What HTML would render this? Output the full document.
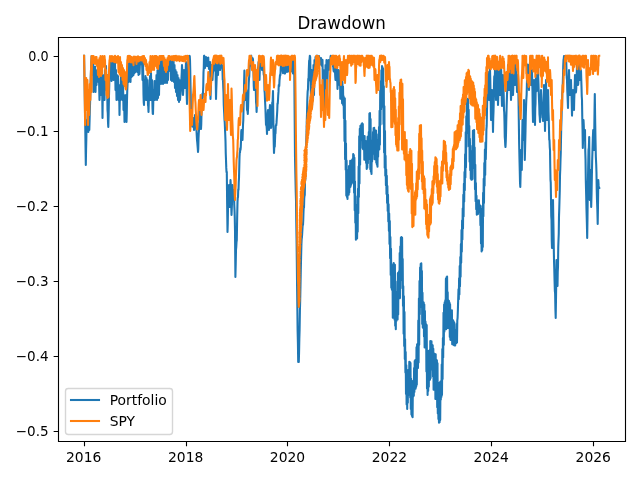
<!DOCTYPE html>
<html><head><meta charset="utf-8"><title>Drawdown</title>
<style>html,body{margin:0;padding:0;background:#fff;overflow:hidden;width:640px;height:480px}svg{display:block}</style></head><body>
<svg width="640" height="480" viewBox="0 0 640 480">
<rect width="640" height="480" fill="#fff"/>
<defs><clipPath id="ax"><rect x="58.35" y="37.33" width="566.65" height="403.94"/></clipPath></defs>
<g clip-path="url(#ax)" fill="none" stroke-width="2.08" stroke-linejoin="round" stroke-linecap="square">
<polyline stroke="#1f77b4" points="84.1,55.69 84.45,77.69 84.8,100 85.05,115.94 85.3,130 85.55,148.5 85.8,165 86.05,150.36 86.3,140 86.55,127.07 86.8,120 87.05,124.25 87.3,130 87.55,119.64 87.8,112 88.05,123.86 88.3,132 88.55,124.64 88.8,115 89.05,123.11 89.3,130 89.55,121.35 89.8,112 90.1,101.97 90.4,90 90.7,77.87 91,70 91.3,62.64 91.6,56 92,57 92.25,63.97 92.5,75 92.75,71.69 93,63.5 93.25,75.1 93.5,92 93.75,82.91 94,70 94.25,77.45 94.5,90 94.75,79.37 95,66.5 95.25,78.27 95.5,92 95.75,80.43 96,70 96.25,79.55 96.5,85 96.75,75.61 97,72 97.25,73.36 97.5,80 97.75,77.99 98,71 98.25,76.55 98.5,82 98.75,76.55 99,76 99.25,90.92 99.5,100 99.75,92.68 100,80 100.25,85.18 100.5,95 100.75,77.04 101,60 101.25,72.81 101.5,90 101.75,78.88 102,70 102.25,94.73 102.5,118 102.75,96.98 103,80 103.25,91.18 103.5,100 103.75,84.81 104,75 104.25,85.53 104.5,100 104.75,86.89 105,70 105.25,74.4 105.5,80 105.75,72.51 106,66 106.25,78.58 106.5,90 106.75,82.36 107,75 107.25,91.81 107.5,110 107.77,112.85 108.03,122.69 108.3,127 108.65,113.8 109,95 109.25,85.36 109.5,70 109.75,66.98 110,62 110.25,69.14 110.5,78 110.75,68.18 111,60 111.25,71.64 111.5,81 111.75,72.54 112,62 112.25,68.18 112.5,79 112.75,67.91 113,60 113.25,69.18 113.5,80 113.75,72.07 114,64 114.25,69.86 114.5,72 114.75,67.75 115,63.5 115.25,73.92 115.5,90 115.75,81.94 116,70 116.25,84.58 116.5,100 116.75,87.61 117,75 117.25,83.33 117.5,95 117.75,85.06 118,76 118.25,87.33 118.5,100 118.75,94.13 119,85 119.25,97.62 119.5,115 119.75,102.8 120,90 120.25,93.07 120.5,100 120.75,89.68 121,77 121.25,84.72 121.5,98 121.75,87.66 122,80 122.25,89.07 122.5,100 122.75,93.32 123,85 123.25,94.81 123.5,110 123.75,102.26 124,95 124.25,106.75 124.5,122 124.75,109.69 125,100 125.25,107.36 125.5,115 125.75,107.75 126,95 126.25,108.39 126.5,122 126.75,113.74 127,100 127.25,90.51 127.5,85 127.75,76.05 128,62 128.25,71.19 128.5,82 128.75,71.14 129,64 129.25,73.99 129.5,81 129.75,73.97 130,62 130.25,69.04 130.5,82 130.75,71.11 131,63 131.25,71.62 131.5,77 131.75,68.55 132,62 132.25,67.45 132.5,76 132.75,66.55 133,63 133.25,66.24 133.5,75 133.75,69.21 134,62 134.25,70.4 134.5,73 134.75,69.99 135,61 135.25,66.52 135.5,72 135.75,64.14 136,62 136.25,65.43 136.5,71 136.75,67.72 137,61 137.25,68.49 137.5,72 137.75,67.84 138,62 138.25,66.88 138.5,75 138.75,68.16 139,61 139.25,67.36 139.5,74 139.75,67.76 140,60 140.25,60.08 140.5,63 140.75,64.18 141,60 141.25,63.25 141.5,62 141.75,58.97 142,60 142.25,68.75 142.5,80 142.75,73.24 143,62 143.25,77.17 143.5,95 143.75,102.66 144,105 144.25,92.59 144.5,80 144.75,90.18 145,98 145.25,88.23 145.5,76 145.75,86.28 146,100 146.25,87.71 146.5,78 146.75,87.53 147,100 147.25,91.1 147.5,80 147.75,93.66 148,105 148.25,106.29 148.5,112 148.75,103.32 149,90 149.25,94.52 149.5,100 149.75,86.45 150,76 150.25,87.61 150.5,100 150.75,89.38 151,73 151.25,86.86 151.5,100 151.75,90.75 152,80 152.25,96.52 152.5,108 152.75,113.77 153,114 153.25,103.56 153.5,90 153.75,94.51 154,100 154.25,91.03 154.5,81 154.75,92.91 155,100 155.25,92.74 155.5,82 155.75,88.98 156,95 156.25,84.08 156.5,75 156.75,86.71 157,100 157.25,86.42 157.5,70 157.75,84.38 158,98 158.25,80.6 158.5,69 158.75,83.26 159,95 159.25,80.92 159.5,62 159.75,73.79 160,82 160.25,73.38 160.5,60 160.75,74.46 161,84 161.25,72.71 161.5,61 161.75,73.23 162,82 162.25,70.28 162.5,60 162.75,69.59 163,84 163.25,74.12 163.5,66 163.75,71.87 164,80 164.25,77.6 164.5,70 164.75,77.63 165,83 165.25,77.75 165.5,72 165.75,77.73 166,82 166.25,74.75 166.5,72 166.75,77.71 167,83 167.25,78.7 167.5,72 167.75,75.36 168,80 168.25,68.47 168.5,60 168.75,64.44 169,70 169.25,62.94 169.5,58 169.75,65.61 170,71 170.25,63.35 170.5,60 170.75,67.54 171,80 171.25,67.87 171.5,58 171.75,70.67 172,81 172.25,73.06 172.5,62 172.75,69.46 173,75 173.25,69.11 173.5,58 173.75,69.19 174,82 174.25,70.68 174.5,65 174.75,76.43 175,88 175.25,78.66 175.5,70 175.75,79.08 176,92 176.25,83 176.5,72 176.75,83.05 177,96 177.25,83.93 177.5,75 177.75,86.46 178,100 178.25,91.66 178.5,78 178.75,87.05 179,102 179.25,90.16 179.5,80 179.75,88.68 180,100 180.25,95.69 180.5,94.59 180.75,90.78 181,90 181.25,86.37 181.5,77.51 181.75,72.51 182,65 182.25,70.32 182.5,79.77 182.75,88.2 183,95 183.25,91.03 183.5,80.82 183.75,75.98 184,70 184.25,76.93 184.5,81.29 184.75,81.61 185,88 185.25,81.77 185.5,76.86 185.75,67.75 186,62 186.25,73.76 186.5,84.19 186.75,96.97 187,104 187.25,94.65 187.5,85.86 187.75,73.62 188,65 188.25,64.53 188.5,59.13 188.75,58.25 189,56 189.25,55.91 189.5,56.48 189.75,56.11 190,60 190.25,70.31 190.5,85.35 190.75,95.51 191,110 191.25,110.12 191.5,119.93 191.75,119.54 192,125 192.25,126.5 192.5,122.29 192.75,118.86 193,118 193.25,123.98 193.5,127.18 193.75,125.57 194,130 194.25,123.26 194.5,123.63 194.75,121.49 195,115 195.25,118.37 195.5,122.27 195.75,121.8 196,125 196.25,129.69 196.5,130.61 196.75,135.51 197,140 197.25,142.04 197.5,145.08 197.75,148.2 198,152 198.25,148.96 198.5,138.36 198.75,133.14 199,130 199.25,123.04 199.5,123.77 199.75,115.18 200,110 200.25,111.17 200.5,122.18 200.75,127.24 201,129 201.25,124.32 201.5,113.37 201.75,109.13 202,100 202.25,96.69 202.5,93.6 202.75,97.67 203,93 203.25,86.41 203.5,72.19 203.75,68.29 204,56 204.25,55.69 204.5,60.47 204.75,61.1 205,68 205.25,62.62 205.5,59.81 205.75,61.48 206,57 206.25,57.62 206.5,59.02 206.75,61.22 207,66 207.25,62.5 207.5,64.9 207.75,60.85 208,58 208.25,57.57 208.5,64.98 208.75,66.54 209,69 209.25,66.84 209.5,65.72 209.75,64.96 210,62 210.25,82.91 210.5,99 210.75,90.54 211,83.08 211.25,73.24 211.5,65 211.75,69.82 212,71.61 212.25,75.57 212.5,80 212.75,75.13 213,71.72 213.25,63.23 213.5,60 213.75,65.9 214,64.93 214.25,70.34 214.5,70 214.75,69.52 215,69.65 215.25,65.46 215.5,62 215.75,79.91 216,99 216.25,89.75 216.5,82.86 216.75,75.53 217,65 217.25,70.21 217.5,67.03 217.75,69 218,75 218.25,68.12 218.5,64.17 218.75,60.2 219,60 219.25,58.57 219.5,63 219.75,64.41 220,70 220.25,68.24 220.5,64.43 220.75,64.01 221,57 221.25,62.99 221.5,63.51 221.75,67.43 222,66 222.25,65.62 222.5,70.76 222.75,80.03 223,80 223.25,87.3 223.5,92.55 223.75,104.65 224,110 224.25,114.11 224.5,119.86 224.75,122.69 225,129 225.25,134.55 225.5,140.97 225.75,153.17 226,160 226.27,167.91 226.53,172.21 226.8,172 227.15,204.31 227.5,232 227.77,223.47 228.03,206.12 228.3,195 228.65,188.21 229,185 229.27,196.11 229.53,200.56 229.8,207 230.15,195.02 230.5,180 230.75,184.33 231,195.03 231.25,206.09 231.5,215 231.75,209.62 232,203 232.25,194.87 232.5,185 232.85,191.01 233.2,200 233.47,195.56 233.73,196.73 234,190 234.25,204.61 234.5,209.86 234.75,217.11 235,230 235.4,277 235.7,264.69 236,250 236.27,247.01 236.53,242 236.8,240 237.15,218.38 237.5,202 237.75,197.88 238,197.1 238.25,189.33 238.5,190 238.75,182.15 239,177.98 239.25,167.68 239.5,157 239.75,152.78 240,152.68 240.25,148.25 240.5,150 240.75,147.36 241,141.31 241.25,131.74 241.5,130 241.75,132.98 242,135.95 242.25,138.26 242.5,140 242.77,132.13 243.03,124.79 243.3,120 243.58,106.22 243.85,100.2 244.12,81.28 244.4,70.6 244.7,80.42 245,89.81 245.3,100 245.55,94.3 245.8,94.02 246.05,89.62 246.3,90 246.65,98.27 247,110 247.27,110.04 247.53,111.21 247.8,114 248.15,106.24 248.5,90 248.75,83.04 249,78.38 249.25,76.52 249.5,70 249.75,66.68 250,65.48 250.25,64.41 250.5,56.58 250.75,59.98 251,56 251.25,55.69 251.5,58.12 251.75,65.7 252,65 252.25,66.69 252.5,64.15 252.75,58.31 253,60 253.25,66.92 253.5,72.94 253.75,85.72 254,90 254.25,82.48 254.5,77.14 254.75,76.3 255,70 255.27,78.29 255.53,84.84 255.8,90.8 256.07,102.3 256.33,104.61 256.6,112 256.9,103.74 257.2,86.33 257.5,75 257.75,71.43 258,67.2 258.25,67.24 258.5,62 258.75,68.83 259,68.59 259.25,75.74 259.5,80 259.75,72.09 260,60 260.25,59.51 260.5,60.49 260.75,59.57 261,58 261.25,62.96 261.5,62.68 261.75,65.23 262,70 262.25,63.17 262.5,68.55 262.75,65.13 263,60 263.25,62.75 263.5,71.73 263.75,74.89 264,75 264.25,78.1 264.5,90.54 264.75,93.04 265,100 265.25,104.58 265.5,110.34 265.75,117.98 266,125 266.25,123.38 266.5,125.48 266.75,128.33 267,134 267.25,126.28 267.5,118.96 267.75,112.64 268,110 268.25,117.94 268.5,118.93 268.75,124.91 269,130 269.25,124.64 269.5,121.32 269.75,108.13 270,105 270.25,108.36 270.5,119.66 270.75,125.84 271,128 271.25,127.28 271.5,119.25 271.75,113.34 272,110 272.25,102.54 272.5,104.07 272.75,98.06 273,91 273.25,110.95 273.5,130 273.75,144.02 274,153 274.25,147.69 274.5,146.79 274.75,146.75 275,140 275.25,132.89 275.5,133.51 275.75,126.05 276,125 276.25,125.39 276.5,122.9 276.75,118.73 277,115 277.25,110.7 277.5,103.43 277.75,103.7 278,100 278.25,95.06 278.5,91.66 278.75,85.18 279,85 279.25,86.04 279.5,80.19 279.75,78.02 280,75 280.25,75.37 280.5,73.32 280.75,67.92 281,65 281.25,64.12 281.5,65.39 281.75,60.19 282,60 282,57.5 282.25,64.73 282.5,61.37 282.75,71.68 283,73.13 283.25,69.45 283.5,66.33 283.75,65.45 284,57.5 284.25,59.21 284.5,64.78 284.75,72.02 285,73.58 285.25,71.58 285.5,65.74 285.75,63.78 286,57.5 286.25,62.54 286.5,67.7 286.75,69.51 287,71.89 287.25,67.18 287.5,62.97 287.75,57.72 288,57.5 288.25,57.85 288.5,60.6 288.75,71.51 289,71.07 289.25,64.79 289.5,65.11 289.75,57.96 290,57.5 290.25,64.75 290.5,64.76 290.75,65.36 291,71.5 291.25,70.69 291.5,67.49 291.75,64.99 292,57.5 292.25,59.16 292.5,64.66 292.75,70.86 293,73.48 293.25,63.86 293.5,58 293.85,59.61 294.2,60 294.6,110 295,157 295.25,169.57 295.5,180.79 295.75,192.21 296,200 296.27,222.32 296.53,238 296.8,260 297.07,285.74 297.33,306.04 297.6,330 297.9,342.83 298.2,362 298.5,360.29 298.8,362 299.07,352.53 299.33,339.27 299.6,330 299.9,310.95 300.2,300 300.5,284.9 300.8,270 301.1,256.65 301.4,245 301.67,239 301.95,237.16 302.23,232.64 302.5,228 302.75,224.3 303,224.87 303.25,220.05 303.5,212 303.75,205.99 304,207.72 304.25,198.15 304.5,196 304.77,195.04 305.03,180.91 305.3,180 305.55,168.18 305.8,160 306.05,154.32 306.3,140 306.55,131.61 306.8,120 307.05,112.06 307.3,100 307.65,91.54 308,89 308.27,78.88 308.53,80.93 308.8,70 309.15,60.66 309.5,60 309.85,55.69 310.2,57 310.5,75 310.75,86.81 311,100 311.25,88.19 311.5,70 311.75,90.79 312,108 312.25,98.98 312.5,80 312.75,92.79 313,100 313.25,81.87 313.5,65 313.75,84.11 314,95 314.25,75.67 314.5,60 314.75,65.51 315,80 315.25,73.09 315.5,57 315.75,64.81 316,65 316.25,64.35 316.5,60.3 316.75,55.69 317,56 317.25,55.69 317.5,55.69 317.75,55.69 318,60 318.25,58.79 318.5,61.75 318.75,61.32 319,56 319.25,57.89 319.5,61.24 319.75,60.93 320,63 320.25,64.51 320.5,62.56 320.75,64.1 321,58 321.25,63.46 321.5,63.78 321.75,64.9 322,66 322.25,59.69 322.5,60 322.75,79.72 323,100 323.25,84.48 323.5,70 323.75,85.54 324,108 324.25,91.02 324.5,80 324.75,91.61 325,105 325.25,81.76 325.5,65 325.75,78.74 326,90 326.25,73.28 326.5,60 326.75,83.38 327,97 327.27,89.84 327.53,79.17 327.8,70 328.15,64.34 328.5,60 328.75,60.92 329,61 329.25,69.75 329.5,68 329.75,69.39 330,64 330.25,61.25 330.5,57 330.75,55.69 331,60.92 331.25,58.92 331.5,64 331.75,60.74 332,61.87 332.25,56.25 332.5,58 332.75,58.33 333,66.3 333.25,66.85 333.5,70 333.75,71.4 334,61.59 334.25,58.39 334.5,60 334.75,69.38 335,71.09 335.25,76.93 335.5,80 335.75,76.81 336,68.99 336.25,73.53 336.5,65 336.75,70.96 337,81.09 337.25,79.46 337.5,89 337.75,82 338,79.99 338.25,72.23 338.5,70 338.75,77.35 339,75.11 339.25,77.04 339.5,85 339.75,74.8 340,71.33 340.3,98.66 340.6,70.5 340.9,97.19 341.2,80.02 341.5,98.79 341.8,82.05 342.1,103.17 342.4,81.73 342.7,104.08 343,86.6 343.3,105.47 343.6,96.18 343.9,118.17 344.2,98.05 344.5,141.11 344.8,98.34 345.1,159.3 345.4,120.77 345.7,169.82 346,143.54 346.3,195.47 346.6,160.65 346.9,196.98 347.2,170.37 347.5,198.95 347.8,172.28 348.1,192.82 348.4,170.08 348.7,194.68 349,165.96 349.3,192.42 349.6,165.84 349.9,187.45 350.2,160.72 350.5,186.81 350.8,162.97 351.1,184.84 351.4,161.14 351.7,183.52 352,160.07 352.3,182.24 352.6,158.96 352.9,174.7 353.2,154.11 353.5,182.06 353.8,155.1 354.1,192.67 354.4,157.87 354.7,210.34 355,181.61 355.3,222.65 355.6,196.33 355.9,239.62 356.2,211.06 356.5,237.38 356.8,214.48 357.1,238.45 357.4,204.8 357.7,231.77 358,188.7 358.3,213.27 358.6,166.63 358.9,197 359.2,136.31 359.5,183.52 359.8,128.85 360.1,164.69 360.4,125.88 360.7,138.21 361,127.62 361.3,139.75 361.6,123.98 361.9,139.55 362.2,123.28 362.5,147.98 362.8,124.01 363.1,149.22 363.4,136.21 363.7,148.94 364,136.86 364.3,159.74 364.6,136.04 364.9,157.8 365.2,141.4 365.5,158.92 365.8,140.92 366.1,163.01 366.4,142 366.7,168.94 367,144.41 367.3,167.66 367.6,136.77 367.9,163.16 368.2,136.33 368.5,159.03 368.8,132.1 369.1,156.8 369.4,113.58 369.7,155.58 370,113.15 370.3,169.19 370.6,119.01 370.9,171.85 371.2,142.98 371.5,173.96 371.8,142.94 372.1,161.59 372.4,140.42 372.7,153.26 373,132.15 373.3,153.66 373.6,128.1 373.9,149.37 374.2,127.8 374.5,159.28 374.8,130.11 375.1,159.16 375.4,130.18 375.7,156.49 376,130.61 376.3,162.8 376.6,134.38 376.9,164.71 377.2,140.04 377.5,166.8 377.8,140.64 378.1,156.73 378.4,140.73 378.7,148.26 379,127.02 379.3,149.44 379.6,110.83 379.9,144.73 380.2,90.48 380.5,124.6 380.8,81.38 381.1,109.2 381.4,70.34 381.7,89.33 382,65.93 382.3,81.17 382.6,67.35 382.9,106.62 383.2,68.7 383.5,124.1 383.8,86.32 384.1,152.49 384.4,106.32 384.7,167.7 385,130.92 385.3,175.73 385.6,155.9 385.9,185.27 386.2,169.43 386.5,193.89 386.8,175.79 387.1,203.01 387.4,186.02 387.7,210.94 388,194.83 388.3,221.51 388.6,204.21 388.9,230.96 389.2,213.57 389.5,243.97 389.8,221.12 390.1,258.27 390.4,236.95 390.7,274.99 391,248.68 391.3,287.66 391.6,264.39 391.9,289.83 392.2,278.22 392.5,272.08 392.8,317.76 393.1,270.83 393.4,315.84 393.7,263.04 394,316.38 394.3,265.82 394.6,319.76 394.9,264.72 395.2,325.75 395.5,281.54 395.8,329.14 396.1,293.46 396.4,321.02 396.7,292.48 397,319.43 397.3,293.29 397.6,319.43 397.9,273.04 398.2,314.46 398.5,272.48 398.8,297.21 399.1,271.38 399.4,297.09 399.7,253.08 400,298.13 400.3,246.56 400.6,276.35 400.9,237.47 401.2,255.59 401.5,237.06 401.8,279.87 402.1,237.72 402.4,288.32 402.7,258.98 403,305.87 403.3,286.22 403.6,333.7 403.9,296.23 404.2,346.11 404.5,312.12 404.8,359.11 405.1,339.37 405.4,372.61 405.7,352.08 406,393.94 406.3,365.26 406.6,404.6 406.9,374.85 407.2,408.96 407.5,370.39 407.8,402.83 408.1,370.05 408.4,394.75 408.7,371.49 409,392.1 409.3,361.76 409.6,393.33 409.9,362.15 410.2,397.57 410.5,363.1 410.8,408.95 411.1,378.87 411.4,414.55 411.7,400.12 412,416.1 412.3,382.77 412.6,417.32 412.9,380.98 413.2,396.73 413.5,381.92 413.8,395.71 414.1,367.99 414.4,391.89 414.7,361.02 415,383.35 415.3,360.15 415.6,388.68 415.9,361.92 416.2,386.84 416.5,347.37 416.8,384.86 417.1,344.17 417.4,367.2 417.7,344.89 418,367.97 418.3,320.51 418.6,362.43 418.9,298.55 419.2,344.86 419.5,280.95 419.8,314.21 420.1,267.55 420.4,291.26 420.7,263.91 421,289.67 421.3,263.41 421.6,306.91 421.9,271.01 422.2,324.08 422.5,292.71 422.8,327.47 423.1,306.97 423.4,328.21 423.7,302.55 424,336.38 424.3,304.43 424.6,347.45 424.9,311.11 425.2,346.7 425.5,321.44 425.8,346.27 426.1,324.39 426.4,371.51 426.7,324.94 427,388.38 427.3,354.65 427.6,395.04 427.9,366.28 428.2,390.89 428.5,350.95 428.8,386.7 429.1,353.27 429.4,377.82 429.7,350.04 430,379.78 430.3,341 430.6,378.13 430.9,342.35 431.2,365.19 431.5,341.28 431.8,369.54 432.1,350.18 432.4,369.59 432.7,345.26 433,376.5 433.3,348.76 433.6,389.65 433.9,355.95 434.2,386.79 434.5,353.67 434.8,384.35 435.1,354.52 435.4,398.99 435.7,354.29 436,396.76 436.3,364.23 436.6,397.63 436.9,360.39 437.2,407.22 437.5,363.3 437.8,413.44 438.1,382.79 438.4,419.1 438.7,411.1 439,422.72 439.3,402.8 439.6,422.25 439.9,382.36 440.2,420.11 440.5,381.65 440.8,399.82 441.1,381.16 441.4,397.05 441.7,364.44 442,394.92 442.3,349.16 442.6,379.11 442.9,338.05 443.2,357.52 443.5,312.76 443.8,344.91 444.1,304.58 444.4,331.75 444.7,302.2 445,328.05 445.3,300.31 445.6,325.86 445.9,278.84 446.2,329.31 446.5,277.29 446.8,308.99 447.1,276.53 447.4,319.81 447.7,292.24 448,328.03 448.3,312.81 448.6,327.31 448.9,300.83 449.2,327.04 449.5,302.63 449.8,337 450.1,304.2 450.4,339.86 450.7,313.54 451,337.79 451.3,312.2 451.6,338.3 451.9,310.29 452.2,344.21 452.5,322.29 452.8,344.46 453.1,320.19 453.4,339.15 453.7,321.45 454,345.26 454.3,322.78 454.6,345.49 454.9,330.68 455.2,345.4 455.5,330.01 455.8,343.28 456.1,331.06 456.4,343.1 456.7,324.06 457,342.5 457.3,320.29 457.6,317.93 457.9,309.37 458.2,299.14 458.5,289.38 458.8,299.28 459.1,278.37 459.4,294.4 459.7,266.02 460,286.31 460.3,257.13 460.6,276.72 460.9,243.93 461.2,262.85 461.5,230.14 461.8,251.68 462.1,220.45 462.4,239.43 462.7,208.52 463,228.45 463.3,194.83 463.6,216.61 463.9,183.76 464.2,201.79 464.5,172.05 464.8,190.24 465.1,154.33 465.4,177.53 465.7,132.28 466,167.36 466.3,116.37 466.6,146.8 466.9,100.15 467.2,129.66 467.5,98.72 467.8,120.66 468.1,99.04 468.4,132.96 468.7,109.83 469,146.34 469.3,126.04 469.6,161.79 469.9,138.85 470.2,170.17 470.5,151.07 470.8,178.83 471.1,164.85 471.4,179.83 471.7,162.36 472,179.6 472.3,145.9 472.6,167.97 472.9,130.88 473.2,159.97 473.5,130.23 473.8,159.46 474.1,130.08 474.4,179.06 474.7,147.59 475,189.36 475.3,164.78 475.6,201.28 475.9,182.95 476.2,209.28 476.5,195.75 476.8,214.67 477.1,204.34 477.4,213.88 477.7,200.84 478,214 478.3,200.98 478.6,210.02 478.9,200.39 479.2,210.57 479.5,204.61 479.8,211.9 480.1,206.04 480.4,225.15 480.7,205.94 481,243.46 481.3,208.73 481.6,251.51 481.9,223.82 482.2,250.22 482.5,210.6 482.8,246.89 483.1,192.89 483.4,216.24 483.7,178.79 484,203.04 484.3,163 484.6,185.71 484.9,149.45 485.2,174.93 485.5,142.64 485.8,159.21 486.1,146.15 486.4,129.91 486.7,125.69 487,110 487.25,96.69 487.5,87.95 487.75,80.84 488,72 488.25,82.67 488.5,82.8 488.75,88.59 489,100 489.25,96.34 489.5,79.57 489.75,79.1 490,69 490.25,78.16 490.5,92.49 490.75,104.33 491,120 491.25,111.89 491.5,109.21 491.75,100.9 492,90 492.25,100.86 492.5,106.88 492.75,118.26 493,132 493.25,118.2 493.5,111.44 493.75,100.91 494,85 494.25,76.5 494.5,75.84 494.75,78.35 495,70 495.25,74.01 495.5,80.8 495.75,90.16 496,100 496.25,95.14 496.5,80.13 496.75,75.96 497,65 497.25,71.19 497.5,86.58 497.75,91.69 498,105 498.25,97.2 498.5,89.92 498.75,82.54 499,70 499.25,75.61 499.5,87.35 499.75,87.81 500,95 500.25,92.25 500.5,84.64 500.75,78.24 501,66 501.25,72.06 501.5,83.73 501.75,97.96 502,106 502.25,102.1 502.5,88.07 502.75,85.43 503,75 503.25,83.52 503.5,87.54 503.75,97.1 504,110 504.25,112.57 504.5,122.29 504.75,136.83 505,140 505.25,145.29 505.5,147 505.77,141.63 506.03,133.16 506.3,120 506.65,106.43 507,95 507.25,89.46 507.5,81.55 507.75,74.42 508,65 508.25,67.18 508.5,81.38 508.75,80.32 509,90 509.25,82.45 509.5,77.88 509.75,71.45 510,62 510.25,74.76 510.5,79.12 510.75,88.48 511,100 511.25,94.78 511.5,80.47 511.75,81.24 512,70 512.25,74.4 512.5,81.42 512.75,86.88 513,95 513.25,88.89 513.5,75.24 513.75,66.6 514,62 514.25,63.41 514.5,69.81 514.75,80.48 515,85 515.25,84.89 515.5,70.06 515.75,69.62 516,65 516.25,70.3 516.5,76.6 516.75,83.69 517,92 517.25,83.83 517.5,82.74 517.75,76.91 518,75 518.27,85.6 518.53,101.35 518.8,120 519.15,144.28 519.5,160 519.77,171.18 520.03,182.83 520.3,187 520.65,171.64 521,150 521.27,159.05 521.53,160.6 521.8,170 522.15,141.09 522.5,120 522.77,131.51 523.03,135.18 523.3,140 523.65,122.23 524,100 524.27,116.44 524.53,142.92 524.8,160 525.15,145.85 525.5,131 525.77,116.55 526.03,107.44 526.3,100 526.65,94.68 527,80 527.25,77.48 527.5,68.41 527.75,64.56 528,65 528.25,73.75 528.5,76.02 528.75,83.53 529,90 529.25,79.37 529.5,72.78 529.75,68.97 530,62 530.25,67.02 530.5,70.36 530.75,75.76 531,85 531.25,80.7 531.5,73.63 531.75,69.37 532,70 532.25,82.74 532.5,91.51 532.75,111.34 533,122 533.25,114.18 533.5,103.05 533.75,95.01 534,80 534.25,87.91 534.5,101.72 534.75,112.9 535,125 535.25,108.22 535.5,103.6 535.75,82.91 536,75 536.25,83.58 536.5,84.26 536.75,91.1 537,90 537.25,79.85 537.5,82.44 537.75,77.39 538,67 538.25,78.03 538.5,84.3 538.75,93.23 539,100 539.25,105.32 539.5,114.53 539.75,117.28 540,122 540.25,114.47 540.5,105.05 540.75,99.28 541,90 541.25,95.87 541.5,104.4 541.75,107.73 542,110 542.25,111.05 542.5,117.7 542.75,115.59 543,121 543.25,111.82 543.5,103.26 543.75,96.27 544,85 544.25,92.22 544.5,104.47 544.75,116.33 545,131 545.25,119.45 545.5,102.2 545.75,93.35 546,80 546.25,93.82 546.5,99.27 546.75,107.24 547,120 547.25,113.47 547.5,104.11 547.75,96.87 548,90 548.25,96.78 548.5,111.83 548.75,118.45 549,130 549.25,139.85 549.5,139.97 549.75,146.82 550,150 550.25,166.75 550.5,179.84 550.75,182.71 551,200 551.25,216.28 551.5,220.03 551.75,240.49 552,248 552.25,238.89 552.5,221.56 552.75,214.15 553,200 553.25,215.63 553.5,229.52 553.75,246.27 554,260 554.28,269.23 554.57,280.91 554.85,290.95 555.13,293.72 555.42,309.73 555.7,318 555.97,300.72 556.23,283 556.5,260 556.75,266.86 557,273.41 557.25,275.95 557.5,286 557.75,271.46 558,266.95 558.25,247.12 558.5,240 558.75,234.01 559,216.24 559.25,208.84 559.5,200 559.75,191.22 560,175.3 560.25,169.47 560.5,160 560.75,152.98 561,138.84 561.25,126.76 561.5,120 561.75,108.1 562,109.48 562.25,93.54 562.5,90 562.75,84.19 563,76.38 563.25,65.3 563.5,60 563.75,58.58 564,56 564.25,59.36 564.5,56.08 564.75,57.95 565,62 565.25,63.75 565.5,56.08 565.75,57.39 566,56 566.25,61.55 566.5,70.78 566.75,77.57 567,80 567.25,89.64 567.5,95.26 567.75,101.41 568,108 568.25,94.42 568.5,89.74 568.75,78.83 569,70 569.25,78.81 569.5,81.26 569.75,84.97 570,95 570.25,90.08 570.5,90.81 570.75,83.72 571,80 571.25,90.58 571.5,93.37 571.75,103.92 572,115.6 572.25,106.86 572.5,102.64 572.75,92.59 573,90 573.25,99.45 573.5,98.31 573.75,100.01 574,110 574.25,98.65 574.5,92.52 574.75,84.91 575,75 575.25,82.4 575.5,79.37 575.75,92.46 576,92 576.25,88.81 576.5,78.65 576.75,73.22 577,65 577.25,68.07 577.5,71.49 577.75,75.1 578,85 578.25,83.99 578.5,77.65 578.75,67.59 579,62.5 579.25,67.89 579.5,71.02 579.75,77.51 580,80 580.25,73.74 580.5,78.04 580.75,70 581,71 581.25,79.16 581.5,86.73 581.75,96.23 582,100 582.27,117.15 582.53,128.78 582.8,148 583.15,137.15 583.5,120 583.77,125.41 584.03,133.97 584.3,140 584.65,138 585,130 585.27,151.44 585.53,159.37 585.8,180 586.15,194.55 586.5,210 586.85,222.14 587.2,238 587.5,217.47 587.8,190 588.15,168.98 588.5,150 588.85,147.6 589.2,137 589.5,171.44 589.8,200 590.15,184.19 590.5,170 590.85,191.13 591.2,207 591.5,195.29 591.8,180 592.15,161.17 592.5,150 592.85,137.97 593.2,130 593.47,133.02 593.73,146.66 594,150 594.27,130.29 594.53,110.67 594.8,94 595.15,119.17 595.5,140 595.85,156.86 596.2,164 596.47,172.41 596.73,189.91 597,200 597.35,209.28 597.7,224 598,204.91 598.3,180 598.61,185.13 598.93,188.02 599.24,188"/>
<polyline stroke="#ff7f0e" points="84.1,55.69 84.4,72.65 84.7,90 85.1,125 85.35,112.74 85.6,100 85.9,90.7 86.2,78 86.5,93.86 86.8,110 87.1,95.03 87.4,80 87.7,102.85 88,125 88.3,106.24 88.6,90 88.9,102.55 89.2,115 89.5,100.02 89.8,84 90.1,93.17 90.4,100 90.7,83.38 91,70 91.3,62.21 91.6,56 91.5,92 91.75,74.36 92,60 92.25,59.24 92.5,56 92.75,59.77 93,62 93.25,57.17 93.5,56 93.75,61.43 94,63 94.25,62.36 94.5,58 94.75,61.62 95,64 95.25,60.96 95.5,57 95.75,58.63 96,63 96.25,58.06 96.5,57 96.75,61.61 97,66 97.25,62.24 97.5,62 97.75,67.26 98,75 98.25,66.47 98.5,60 98.75,66.62 99,77 99.25,67.36 99.5,58 99.75,65.26 100,73 100.25,65.87 100.5,56 100.75,66.08 101,76 101.25,68.56 101.5,60 101.75,67 102,74 102.25,65.65 102.5,56 102.75,61.33 103,67 103.25,61.11 103.5,57 103.75,63.49 104,66 104.25,62.98 104.5,56 104.75,59.36 105,60 105.25,70.83 105.5,80 105.75,74.26 106,70 106.25,81.42 106.5,95 106.75,84.16 107,75 107.25,84.78 107.5,98 107.75,90.07 108,80 108.25,88.1 108.5,97 108.75,85.89 109,72 109.25,65.55 109.5,60 109.75,59.83 110,56 110,55.95 110.25,59.85 110.5,60.96 110.75,56.84 111,56.71 111.25,57.9 111.5,61.41 111.75,60.37 112,56.04 112.25,58.4 112.5,61 112.75,60.94 113,57.04 113.25,58.9 113.5,61.57 113.75,57.35 114,56.55 114.25,59.87 114.5,62.16 114.75,60.04 115,55.7 115.25,57.95 115.5,62.04 115.75,57.73 116,56.72 116.25,59.04 116.5,62.69 116.75,61.76 117,57.12 117.25,60.85 117.5,62.52 117.75,57.79 118,56.12 118,58 118.25,63.99 118.5,72 118.75,64.4 119,60 119.25,65.24 119.5,74 119.75,66.69 120,57 120.25,65.21 120.5,76 120.75,69.24 121,62 121.25,67.79 121.5,74 121.75,68.26 122,65 122.25,73.43 122.5,80 122.75,72.52 123,68 123.25,76.57 123.5,84 123.75,75.47 124,70 124.25,77.68 124.5,86 124.75,77.85 125,72 125.25,79.08 125.5,88 125.85,89.5 126.2,88.5 126.5,82.96 126.8,75 127.05,66.72 127.3,60 127.55,59.54 127.8,56 128,57.2 128.25,58.38 128.5,61.88 128.75,58.38 129,55.73 129.25,59.61 129.5,60.65 129.75,58.89 130,56 130.25,57.55 130.5,62.29 130.75,61.51 131,56.82 131.25,58.31 131.5,62.09 131.75,58.72 132,57.27 132.25,60.97 132.5,62.48 132.75,59.28 133,57.44 133.25,60.5 133.5,65.18 133.75,59.2 134,56.64 134.25,56.94 134.5,60.53 134.75,58.98 135,56.77 135.25,57.63 135.5,60.54 135.75,59.08 136,56.81 136.25,59.84 136.5,63.9 136.75,60.48 137,57.43 137.25,61.07 137.5,61.03 137.75,58.53 138,56.17 138.25,59.13 138.5,61.49 138.75,60.69 139,56.96 139.25,57.58 139.5,60.74 139.75,57.52 140,57.06 140.25,60.32 140.5,60.32 140.75,59.96 141,57.05 141.25,57.76 141.5,60.47 141.75,57.32 142,56.65 142.25,59.41 142.5,60.26 142.75,59.91 143,56.03 143,58 143.25,58.79 143.5,62 143.75,60.8 144,56 144.25,61.53 144.5,64 144.75,61.41 145,58 145.25,61.69 145.5,66 145.75,61.42 146,60 146.25,63.15 146.5,70 146.75,68.85 147,64 147.25,67.45 147.5,73 147.75,74.82 148,75 148.25,70.53 148.5,68 148.75,71.79 149,73 149.25,67.89 149.5,62 149.75,65.17 150,70 150.25,61.7 150.5,56 150.75,64.88 151,72 151.25,63.28 151.5,58 151.75,62.91 152,70 152.25,63.24 152.5,56 152.75,63.41 153,68 153.25,62.96 153.5,57 153.75,62.62 154,70 154.25,64.67 154.5,56 154.75,57.82 155,62 155.25,57.07 155.5,56 155.75,60.08 156,66 156.25,60.78 156.5,56 156.75,60.24 157,68 157.25,61.21 157.5,57 157.75,62.48 158,69 158.25,63.79 158.5,58 158.75,59.53 159,64 159.25,59.45 159.5,56 159.75,59.56 160,60 160.25,59.92 160.5,56 160.75,58.63 161,60 161.25,58.76 161.5,56 161.75,57.84 162,59 162.25,56.06 162.5,56 162.75,56.14 163,60 163.25,56.07 163.5,56 163.75,62.64 164,66 164.25,62.8 164.5,58 164.75,65.85 165,70 165.25,63.09 165.5,60 165.75,66.54 166,72 166.25,66.93 166.5,62 166.75,66.92 167,70 167.25,63.28 167.5,58 167.75,63.5 168,65 168.25,58.8 168.5,56 168.75,58.18 169,60 169.25,58.95 169.5,56 169.75,57.69 170,56.69 170.25,58.8 170.5,59.03 170.75,58.67 171,56.68 171.25,59.56 171.5,60.09 171.75,59.89 172,56.36 172.25,57.5 172.5,59.82 172.75,58.81 173,56.31 173.25,59.9 173.5,60.28 173.75,59.59 174,55.92 174.25,57.64 174.5,60.02 174.75,59.15 175,55.96 175.25,59.49 175.5,60.12 175.75,58.21 176,55.72 176.25,58.71 176.5,60.7 176.75,58.19 177,56.61 177.25,58.83 177.5,60.38 177.75,58.81 178,56.37 178.25,56.54 178.5,60.08 178.75,58.68 179,56.18 179.25,60.62 179.5,61.11 179.75,60.46 180,56.78 180.25,59.56 180.5,60.48 180.75,58.09 181,56.63 181.25,59.58 181.5,60.55 181.75,59.17 182,57.1 182.25,58.8 182.5,61.03 182.75,60.46 183,56.82 183.25,57.04 183.5,61.13 183.75,60.03 184,56.56 184.25,56.4 184.5,60.8 184.75,58.99 185,56.18 185.25,58.89 185.5,61.8 185.75,57.73 186,56.44 186,55.7 186.25,57.32 186.5,56.84 186.75,58.04 187,58 187.25,59.18 187.5,55.69 187.75,55.69 188,56 188.27,59.54 188.53,66.35 188.8,70 189.15,83.27 189.5,100 189.85,113.53 190.2,131 190.47,126.43 190.73,117.96 191,110 191.25,113.4 191.5,119.85 191.75,120.21 192,125 192.25,118.5 192.5,108.19 192.75,102.09 193,95 193.28,93.04 193.56,89.89 193.84,85.88 194.12,79.11 194.4,76 194.67,84.5 194.93,90.9 195.2,100 195.47,102.82 195.73,109.98 196,115 196.25,120.52 196.5,124.09 196.75,126.77 197,129 197.25,129.45 197.5,123.16 197.75,120.26 198,120 198.25,114.7 198.5,108.65 198.75,103.28 199,100 199.25,101.98 199.5,105.75 199.75,107.46 200,110 200.3,101.39 200.6,95 200.9,103.7 201.2,111.23 201.5,115 201.75,110.96 202,104.95 202.25,100.94 202.5,100 202.75,104.74 203,102.25 203.25,108.75 203.5,110 203.75,106.67 204,101.35 204.25,100.5 204.5,95 204.75,93.86 205,96.32 205.25,99.98 205.5,102 205.75,94.9 206,95.48 206.25,87.67 206.5,85 206.75,84.1 207,84.78 207.25,89.53 207.5,90 207.77,83.68 208.03,78.78 208.3,72 208.65,76.93 209,80 209.25,85.59 209.5,90.25 209.75,92.36 210,95 210.25,90.7 210.5,89.85 210.75,85.57 211,85 211.25,78.31 211.5,77.33 211.75,75.04 212,70 212.25,65.57 212.5,63.63 212.75,61.57 213,60 213.25,60.18 213.5,58.12 213.75,57.69 214,56 214,61.89 214.2,63.74 214.4,55.69 214.6,58.94 214.8,55.69 215,57.87 215.2,61.39 215.4,62.08 215.6,56.22 215.8,55.69 216,60.13 216.2,55.69 216.4,55.69 216.6,59.17 216.8,63.29 217,55.69 217.2,60.07 217.4,58.55 217.6,63.32 217.8,61.55 218,58.2 218.2,58.71 218.4,61.44 218.6,58.76 218.8,56.08 219,58.59 219.2,57.42 219.4,56.65 219.6,55.69 219.8,56.04 220,55.69 220.2,63.27 220.4,63.71 220.6,61.89 220.8,62.91 221,61.72 221.2,56.25 221.4,55.69 221.6,58.59 221.8,58.76 222,60.49 222.2,62.64 222.4,63.1 222.6,63.36 222.8,60.95 223,57.84 223.25,59.29 223.5,58 223.75,62.82 224,70.87 224.25,77.11 224.5,80 224.85,97.32 225.2,120 225.47,114.5 225.73,104.8 226,95 226.25,101.3 226.5,112.19 226.75,122.09 227,130 227.25,121.26 227.5,106.17 227.75,95.97 228,84 228.25,95.59 228.5,104.03 228.75,114.05 229,120 229.25,114.75 229.5,111.05 229.75,102.94 230,100 230.25,110.31 230.5,119.74 230.75,127.25 231,135 231.25,113.3 231.5,88.5 231.75,95.57 232,109.63 232.25,119.35 232.5,125 232.85,135.98 233.2,140 233.47,150.27 233.73,162.14 234,170 234.25,176.17 234.5,188.05 234.75,195.16 235,200 235.35,191.36 235.7,185 235.97,173.5 236.23,167.88 236.5,160 236.75,157.89 237,157.07 237.25,152.4 237.5,150 237.77,139.67 238.03,139.08 238.3,130 238.65,120.57 239,118 239.25,122.13 239.5,118.9 239.75,121.93 240,125 240.25,122.3 240.5,112.13 240.75,107.2 241,105 241.25,106.38 241.5,109.28 241.75,111.45 242,110 242.25,107.75 242.5,106.02 242.75,98.69 243,95 243.25,99.78 243.5,94.25 243.75,96.56 244,100 244.25,96.46 244.5,90.86 244.75,90.54 245,85 245.25,87.33 245.5,87.68 245.75,91.42 246,90 246.25,85.46 246.5,78.54 246.75,74.08 247,70 247.25,73.91 247.5,75.58 247.75,71.51 248,75 248.25,73.94 248.5,71.09 248.75,63.94 249,60 249.25,59.56 249.5,55.72 249.75,57.27 250,56 250.25,56.52 250.5,57.8 250.75,55.69 251,58 251.25,64.54 251.5,64.12 251.75,66.25 252,70 252.25,70.26 252.5,66.47 252.75,63.93 253,62 253.25,67.93 253.5,67.76 253.75,75.79 254,80 254.25,75.61 254.5,75.89 254.75,71.89 255,65 255.25,69.04 255.5,76.3 255.75,79.5 256,88 256.25,83.01 256.5,81.32 256.75,77.44 257,70 257.25,87.83 257.5,106 257.75,89.17 258,75 258.25,68.01 258.5,66.36 258.75,63.83 259,56 259.25,55.69 259.5,61.02 259.75,57.06 260,62 260.25,58.3 260.5,57.04 260.75,58.84 261,56 261.25,57.23 261.5,59.97 261.75,64.35 262,66 262.25,60.69 262.5,62.64 262.75,55.83 263,56 263.25,57.07 263.5,56.24 263.75,56.87 264,60 264.25,67.71 264.5,74.56 264.75,81.63 265,90 265.25,85.64 265.5,82.7 265.75,76.38 266,75 266.25,79.34 266.5,88.71 266.75,95.16 267,100.6 267.25,96.9 267.5,95.22 267.75,89.67 268,85 268.25,91.2 268.5,90.67 268.75,97.9 269,100 269.25,97.12 269.5,92.75 269.75,83.75 270,80 270.25,73.12 270.5,71.62 270.75,61.22 271,57.5 271.25,65.24 271.5,68.86 271.75,68.16 272,75 272.25,69.5 272.5,69.02 272.75,62.14 273,60 273.25,64.19 273.5,75.96 273.75,80.1 274,87.5 274.25,85.05 274.5,76.27 274.75,73.73 275,70 275.25,69.22 275.5,62.83 275.75,62.04 276,62 276.25,61.69 276.5,61.69 276.75,60.56 277,56 277,58.27 277.2,55.69 277.4,64.36 277.6,63.75 277.8,55.72 278,55.69 278.2,58.12 278.4,57.75 278.6,61.19 278.8,55.69 279,65.54 279.2,64.55 279.4,63.46 279.6,56.12 279.8,64.93 280,62.22 280.2,56.82 280.4,55.89 280.6,58.22 280.8,58.78 281,55.82 281.2,55.69 281.4,64.62 281.6,59.76 281.8,55.69 282,62.22 282.2,65.23 282.4,64.74 282.6,65.26 282.8,65.97 283,55.69 283.2,59.27 283.4,56.12 283.6,60 283.8,55.69 284,55.91 284.2,55.69 284.4,60.02 284.6,65.61 284.8,62.53 285,56.36 285.2,55.69 285.4,64.7 285.6,55.69 285.8,55.75 286,63.07 286.2,62.03 286.4,61.06 286.6,65.12 286.8,55.7 287,58.81 287.2,60.24 287.4,65.02 287.6,61.78 287.8,64.38 288,55.69 288.2,57.78 288.4,62.03 288.6,64.3 288.8,58.63 289,56.85 289.2,64.98 289.4,59.19 289.6,64.1 289.8,56.56 290,59.88 290,80 290.25,72.67 290.5,70.03 290.75,66.59 291,60 291.25,59.02 291.5,59.17 291.75,55.69 292,56 292.25,55.69 292.5,55.69 292.75,55.97 293,60 293.25,59.34 293.5,58.1 293.75,57.46 294,56 294.25,55.69 294.5,56 294.75,55.69 295,58 295.3,76.91 295.6,100 295.85,127.44 296.1,150 296.4,173.57 296.7,190 297,218.16 297.3,240 297.65,256.95 298,280 298.27,285.65 298.53,301.48 298.8,307 299.15,303.2 299.5,300 299.27,302.03 299.5,300.86 299.39,299.34 299.62,298.6 299.28,297.04 299.34,295.98 299.45,294.79 299.46,293.39 299.39,292.62 299.52,291.34 299.4,289.74 299.46,288.85 299.29,287.32 299.44,286.38 299.42,285.43 299.51,284.25 299.32,282.98 299.6,281.86 299.46,280.16 299.71,279.03 299.49,277.96 299.58,276.68 299.35,275.53 299.68,274.45 299.38,273.44 299.6,272.26 299.46,271.09 299.61,269.4 299.46,268.68 299.56,267.24 299.41,265.83 299.6,264.84 299.29,263.34 299.61,262.69 299.23,261.38 299.49,262.68 299.76,259.79 299.29,258.96 299.63,257.33 299.39,256.13 299.77,255.1 299.5,254.29 299.95,253.1 299.65,250.85 299.36,251.35 299.7,250.47 300.03,250.12 299.69,249.75 299.35,249.14 299.62,248.14 299.88,249.05 300.15,247.79 299.88,245.52 299.6,248.87 299.33,247.02 299.59,248.51 299.84,244.38 300.1,245.79 300.35,245.88 299.98,247.01 299.62,244.33 299.89,243.2 300.15,241.71 300.42,243.21 300.14,240.56 299.85,242.54 299.57,242.06 299.88,239.38 300.19,243.56 300.5,240.87 300.23,242.37 299.96,241.66 299.69,239.6 300.01,241.1 300.33,239.92 300.66,238.53 300.37,237.41 300.08,238.6 299.79,237.48 299.51,237.08 299.78,238.58 300.06,238.58 300.33,234.51 300.61,236.01 300.28,237.51 299.95,236.96 299.63,234.51 299.88,236 300.13,236.01 300.39,233.24 300.64,236 300.89,233.65 300.61,235.14 300.33,234.73 300.06,235.08 299.78,234.82 299.5,232.47 299.79,231.41 300.07,233.64 300.36,229.44 300.65,229.98 300.94,230.94 300.63,230.45 300.32,228.48 300.02,229.06 299.71,229.98 299.98,230.84 300.24,230.46 300.51,227.21 300.77,231.47 301.04,228.71 300.78,229.84 300.53,227.03 300.27,229.41 300.02,228.49 299.76,227.74 300.03,227.74 300.29,226.33 300.56,229.24 300.82,227.8 301.09,228 301.35,226.14 301.09,227.63 300.83,227.63 300.57,223.98 300.3,226.62 300.04,227.5 299.78,225.48 300.05,223.28 300.32,224.19 300.59,222.48 300.86,222.48 301.13,223.24 301.4,223.97 301.13,221.2 300.86,221.56 300.59,225.47 300.32,223.52 300.05,222.97 299.78,222.69 300.07,224.19 300.35,222.83 300.63,224.19 300.91,222.99 301.19,224.15 301.48,221.49 301.19,218.96 300.9,221.92 300.61,222.98 300.32,218.96 300.03,222.99 299.75,220.46 300.01,217.63 300.28,219.85 300.55,217.63 300.81,219.66 301.08,220.39 301.34,217.63 301.61,219.13 301.32,220.62 301.04,218.03 300.75,218.63 300.47,218.97 300.18,216.88 299.9,217.72 300.19,215.87 300.48,218.69 300.77,217.81 301.06,215.48 301.35,218.79 301.64,216.94 301.38,215.11 301.11,213.94 300.85,214.27 300.58,213.94 300.32,213.94 300.05,217.69 299.79,215.43 300.06,214.38 300.33,216.93 300.61,216.9 300.88,212.75 301.15,216.93 301.43,216.92 301.7,214.24 301.43,211.67 301.16,215.74 300.9,213.22 300.63,213.45 300.36,215.74 300.1,211.66 299.83,213.16 300.09,213.17 300.34,214.66 300.6,214.41 300.86,212.21 301.12,214.65 301.38,214.62 301.64,212.76 301.89,211.76 301.62,209.21 301.34,212.44 301.07,210.95 300.79,209.21 300.52,209.2 300.24,211.08 299.96,210.7 300.22,208.06 300.48,209.96 300.73,211.61 300.99,209.78 301.25,208.1 301.5,210.5 301.76,209.07 302.02,209.56 301.76,211.05 301.5,209.42 301.25,211.06 300.99,211.06 300.73,210.46 300.48,206.7 300.22,208.2 300.48,205.79 300.75,209.7 301.01,209.7 301.28,208.74 301.54,206.52 301.8,205.8 302.07,208.87 302.33,207.29 302.08,207.64 301.83,207.69 301.58,207.85 301.33,208.64 301.08,204.48 300.83,204.48 300.58,208.79 300.33,205.97 300.6,207.47 300.88,207.47 301.15,203.08 301.43,203.08 301.7,203.28 301.98,204.33 302.25,205.72 302.53,204.57 302.25,201.93 301.97,204.61 301.7,201.93 301.42,201.92 301.14,205.25 300.87,204.11 300.59,204.6 300.31,203.41 300.59,202.3 300.86,203.04 301.14,201.11 301.41,201.77 301.69,204.85 301.96,204.9 302.24,201.12 302.51,202.6 302.24,199.58 301.96,204.09 301.69,203.01 301.41,203.97 301.13,199.57 300.86,200.85 300.58,199.57 300.31,201.07 300.57,202.56 300.83,199.81 301.1,201.96 301.36,202.56 301.62,199.14 301.89,200.8 302.15,202.25 302.41,202.55 302.68,200.09 302.42,199.34 302.16,198.71 301.89,197.22 301.63,201.57 301.37,197.22 301.11,197.21 300.85,199.39 300.59,198.71 300.86,198.45 301.14,199.91 301.41,196.7 301.68,200.2 301.95,195.99 302.23,195.99 302.5,199.03 302.77,195.99 303.04,197.48 302.78,195.8 302.52,198.96 302.26,198.6 301.99,195.22 301.73,194.77 301.47,195.54 301.21,198.33 300.94,195.33 300.68,196.26 300.96,193.66 301.23,197.68 301.5,196.44 301.78,197.75 302.05,197.75 302.32,197.75 302.6,194.91 302.87,197.65 303.14,195.15 302.87,193.48 302.59,193.45 302.32,193.96 302.04,196.64 301.77,196.64 301.49,192.46 301.22,193.12 300.94,193.01 300.67,193.95 300.94,192.71 301.21,192.82 301.49,192.6 301.76,191.1 302.04,193.7 302.31,195.39 302.59,193.21 302.86,195.39 303.13,192.59 302.86,193.01 302.58,190.38 302.3,194.08 302.02,194.08 301.75,190.46 301.47,190.38 301.19,192.15 300.91,192.3 300.64,191.87 300.9,192.29 301.17,193.36 301.44,192.71 301.71,193.36 301.97,189.2 302.24,191.53 302.51,193.31 302.77,189.21 303.04,189.21 303.31,190.69 303.04,192.17 302.78,192.17 302.51,187.99 302.24,191.21 301.98,187.98 301.71,191.82 301.44,190.92 301.18,187.98 300.91,189.47 301.16,187.1 301.42,190.96 301.67,189.19 301.92,190.96 302.18,187.89 302.43,187.3 302.68,190.95 302.94,189.63 303.19,188.08 303.44,188.27 303.7,187.83 303.42,189.31 303.15,189.28 302.88,189.32 302.61,186.76 302.33,189.32 302.06,188.6 301.79,189.32 301.52,189.32 301.24,187 301.51,188.49 301.79,188.49 302.06,188.49 302.33,187.6 302.6,186.56 302.87,187.89 303.14,188.48 303.41,185.38 303.68,185.24 303.95,184.14 304.23,185.61 303.96,187.09 303.7,187.09 303.44,184.28 303.18,182.82 302.92,182.82 302.66,184.31 302.39,183.14 302.13,187.1 301.87,182.82 301.61,182.91 301.35,184.3 301.61,181.45 301.88,185.26 302.15,185.79 302.41,181.46 302.68,181.46 302.94,183.35 303.21,184.23 303.48,185.78 303.74,181.46 304.01,181.47 304.27,181.47 304.54,181.47 304.81,182.94 304.55,180.8 304.29,184.41 304.02,183.41 303.76,180.43 303.5,180.39 303.24,180.69 302.98,180.39 302.72,184.25 302.46,180.66 302.2,182.43 301.94,184.43 301.68,181.87 301.94,181.61 302.2,179.78 302.46,183.36 302.72,183.36 302.99,180.12 303.25,181.62 303.51,183.35 303.77,180.91 304.03,179.05 304.3,179.05 304.56,183.34 304.82,182.97 305.08,180.53 304.83,179.57 304.57,180.61 304.31,180.45 304.06,178.5 303.8,182 303.55,181.35 303.29,178.24 303.03,178.24 302.78,179.7 302.52,178.84 302.27,182.01 302.01,179.72 302.28,181.2 302.55,180.39 302.82,177.16 303.08,177.16 303.35,177.91 303.62,177.34 303.89,181.19 304.16,179.18 304.42,180.04 304.69,181.19 304.96,177.17 305.23,178.99 305.5,178.64 305.23,175.82 304.97,180.11 304.7,175.78 304.44,180.11 304.17,180.11 303.91,180.11 303.64,175.77 303.38,175.91 303.11,179.29 302.85,175.76 302.58,177.21 302.32,177.25 302.58,176.92 302.84,178.73 303.1,177.69 303.36,178.73 303.62,175.32 303.89,178.72 304.15,176.05 304.41,178.72 304.67,174.68 304.93,178.72 305.19,174.68 305.45,176.64 305.72,176.42 305.98,176.15 305.71,173.39 305.45,177.61 305.18,174.35 304.92,174.23 304.66,173.21 304.39,173.96 304.13,175.1 303.86,176.92 303.6,174.03 303.33,176.48 303.07,173.2 302.81,173.96 302.54,174.68 302.8,174.3 303.06,176.16 303.33,176.16 303.59,175.56 303.85,172.14 304.11,173.23 304.37,175.74 304.63,172.14 304.89,174.44 305.16,173.54 305.42,172.15 305.68,176.14 305.94,173.61 305.68,175.08 305.42,171.2 305.15,174.25 304.89,171.64 304.63,172.22 304.37,173.41 304.11,171.44 303.84,171.65 303.58,171.99 303.32,174.06 303.06,172.66 303.31,170.63 303.57,170.06 303.82,174.08 304.08,170.81 304.33,174.14 304.58,172.37 304.84,173.49 305.09,170.32 305.35,174.02 305.6,169.64 305.86,169.64 306.11,171.1 305.85,168.75 305.58,172.3 305.31,172.45 305.05,168.75 304.78,169.9 304.52,172.58 304.25,171.21 303.98,168.74 303.72,168.74 303.45,170.22 303.71,167.49 303.97,167.49 304.23,169.15 304.49,167.5 304.75,171.69 305.01,168.97 305.27,169.51 305.53,170.45 305.79,171.25 306.05,171.55 306.31,168.97 306.04,167.92 305.78,167.32 305.51,167.77 305.25,165.95 304.98,167.34 304.72,169.49 304.46,170.44 304.19,169.85 303.93,167.42 304.18,168.58 304.43,168.1 304.68,165.12 304.93,165.78 305.19,165.78 305.44,168.09 305.69,165.13 305.94,165.81 306.2,166.74 306.45,166.59 306.18,168.05 305.91,168.05 305.65,166.99 305.38,163.91 305.11,167.89 304.85,168.06 304.58,165.9 304.31,165.38 304.58,164.08 304.84,165.08 305.11,162.72 305.37,166.43 305.63,166.84 305.9,164.61 306.16,165.99 306.42,164.18 306.16,165.65 305.89,161.37 305.62,165.65 305.35,164.21 305.08,161.04 304.82,161.03 304.55,162.5 304.83,160.42 305.11,162.9 305.39,163.73 305.67,160.79 305.95,163.97 306.23,160.85 306.51,161.82 306.24,161.34 305.96,158.8 305.69,163.28 305.41,158.8 305.14,163.29 304.86,160.99 304.59,160.93 304.31,160.26 304.57,160.62 304.83,158.2 305.08,161.73 305.34,161.73 305.6,161.73 305.85,160.35 306.11,157.75 306.36,161.72 306.62,159.22 306.35,157.44 306.07,160.68 305.8,156.76 305.52,159.17 305.25,160.68 304.98,156.51 304.7,158.51 304.43,157.98 304.68,155.03 304.94,155.03 305.19,155.03 305.45,159.45 305.7,159.45 305.96,158.09 306.21,155.21 306.47,156.5 306.2,157.68 305.93,157.96 305.66,155.17 305.39,156.65 305.12,157.97 304.85,153.91 304.59,153.9 304.32,155.38 304.58,154.99 304.84,152.67 305.1,154.08 305.36,155.36 305.62,152.68 305.88,154.71 306.14,152.68 306.4,154.8 306.66,154.14 306.4,152.76 306.15,155.05 305.89,151.95 305.63,155.1 305.37,151.95 305.11,155.61 304.85,154.28 304.59,153.41 304.85,153 305.11,152.37 305.37,153.84 305.63,154.17 305.89,154.52 306.15,154.29 306.41,152.07 306.67,152 306.42,153.46 306.17,153.46 305.91,153.46 305.66,150.72 305.41,150.76 305.15,151.64 304.9,153.47 304.65,151.04 304.39,150.69 304.67,150.76 304.95,149.91 305.23,152.16 305.51,148.8 305.79,148.22 306.06,151.67 306.34,152.15 306.62,149.69 306.32,151.13 306.03,149.75 305.73,150.6 305.44,148.32 305.71,146.57 305.99,148.55 306.27,145.64 306.55,145.64 306.83,147.1 306.5,146.16 306.17,146.03 306.43,145.62 306.69,144.37 306.95,144.73 306.59,141.95 306.22,143.41 306.5,144.67 306.78,143.14 307.06,141.01 307.33,142.46 307.06,140.54 306.78,140.77 306.51,141.13 306.83,138.75 307.16,138.62 307.49,140.07 307.24,141.53 306.98,141.53 306.73,140.33 306.47,138.72 306.75,140.18 307.03,137.72 307.31,140.18 307.59,136.27 307.87,137.72 307.6,139.17 307.34,137.75 307.07,139.18 306.81,135.06 306.54,136.52 306.81,137.97 307.08,133.59 307.35,136.07 307.62,137.97 307.89,133.6 308.16,135.05 307.91,132.94 307.66,133.21 307.4,133.25 307.15,132.66 306.9,136.5 306.65,134.12 306.92,135.57 307.19,132.94 307.47,132.44 307.74,133.99 308.01,131.31 308.29,131.31 308.56,132.75 308.29,134.2 308.03,131.03 307.76,132.35 307.49,134.21 307.22,134.21 306.95,131.75 306.68,131.83 306.96,129.37 307.23,129.84 307.5,133.28 307.77,133.28 308.04,128.87 308.31,133.1 308.59,130.32 308.3,129.06 308.02,129.8 307.74,127.92 307.46,131.78 307.18,131.78 306.9,129.37 307.17,126.92 307.44,130.04 307.71,126.53 307.98,130.82 308.26,126.53 308.53,126.53 308.8,129.86 309.07,127.98 308.81,126.45 308.55,129.43 308.29,129.43 308.03,129.16 307.77,125.54 307.51,128.81 307.25,129.43 307,126.68 306.74,126.99 306.99,124.38 307.24,124.64 307.49,125.17 307.74,128.13 307.99,124.38 308.24,124.38 308.49,124.39 308.74,127.31 308.99,128.14 309.24,125.83 308.96,124.7 308.68,126.73 308.4,127.28 308.12,125.85 307.84,123.05 307.56,123.32 307.29,127.29 307.01,124.5 307.28,125.64 307.56,122.52 307.84,125.14 308.12,121.79 308.39,125.95 308.67,123.21 308.95,123.73 309.22,123.61 309.5,123.24 309.24,120.61 308.97,123.75 308.71,121.25 308.45,120.88 308.19,124.69 307.92,120.6 307.66,120.77 307.4,124.24 307.13,120.6 306.87,122.05 307.13,120.24 307.39,122.18 307.65,119.3 307.92,123.5 308.18,123.5 308.44,119.14 308.7,120.91 308.96,122.97 309.22,120.08 309.48,123.49 309.74,120.71 310,120.59 309.75,118.07 309.49,120.78 309.24,121.34 308.98,119.07 308.73,121.21 308.47,122.03 308.21,119.91 307.96,119.71 307.7,122.04 307.45,120.85 307.19,119.33 307.45,119.39 307.71,120.78 307.97,116.71 308.23,120.78 308.49,116.71 308.75,119.56 309.01,116.72 309.27,118.1 309.53,120.51 309.79,120.51 310.05,120.44 310.31,118.16 310.04,116.06 309.77,117.85 309.49,115.72 309.22,118.3 308.95,117.58 308.68,115.56 308.4,118.09 308.13,118.87 307.86,117.68 307.58,117.01 307.84,118.46 308.1,114.76 308.36,114.76 308.62,114.76 308.88,116.64 309.14,116.11 309.4,116.1 309.66,114.77 309.92,118.45 310.17,114.77 310.43,118.44 310.69,116.2 310.42,116.61 310.15,116.31 309.88,117.64 309.61,113.8 309.34,113.56 309.07,114.12 308.8,113.56 308.53,113.93 308.26,116.14 307.99,115.31 307.72,115.01 307.98,113.12 308.24,115.48 308.5,112.35 308.76,116.45 309.03,112.36 309.29,112.56 309.55,112.36 309.81,115.64 310.07,116.44 310.33,116.15 310.6,112.37 310.86,113.8 310.6,113 310.35,112.52 310.1,111.27 309.85,115.24 309.59,111.01 309.34,112.91 309.09,114.83 308.83,115.25 308.58,111 308.33,112.45 308.59,111.97 308.84,113.89 309.1,109.48 309.36,109.94 309.62,113.89 309.88,109.48 310.14,110.67 310.4,109.83 310.66,110.63 310.92,109.49 311.18,110.92 310.93,108.58 310.67,112.36 310.42,112.36 310.16,112.31 309.91,108.57 309.65,108.57 309.4,110.67 309.14,108.56 308.89,109.81 308.63,110.01 308.9,111.45 309.16,108.72 309.43,108.39 309.7,111.45 309.96,110.18 310.23,107.13 310.5,108.36 310.76,110.08 311.03,107.13 311.3,107.53 311.57,108.56 311.31,109.94 311.05,109.99 310.79,109.03 310.53,110 310.28,107.93 310.02,107.34 309.76,110 309.5,107.11 309.24,110.01 308.98,107.86 309.25,105.58 309.51,106.45 309.77,105.09 310.03,107.71 310.29,104.86 310.55,104.86 310.81,104.86 311.08,106.58 311.34,105.26 311.6,106.16 311.86,109.29 312.12,106.29 311.86,107.54 311.61,107.72 311.35,103.97 311.09,105.1 310.83,103.96 310.58,107.23 310.32,104.7 310.06,103.96 309.8,103.96 309.55,103.96 309.29,105.4 309.55,103.48 309.81,104.33 310.07,106.83 310.34,106.48 310.6,103.01 310.86,103.57 311.12,102.38 311.38,106.83 311.64,103.16 311.9,106.04 312.17,105.59 312.43,103.81 312.17,105.23 311.91,101.44 311.64,102.23 311.38,102.61 311.12,101.44 310.86,105.24 310.6,101.91 310.34,105.15 310.08,103.18 309.82,101.43 309.55,102.87 309.81,101.96 310.07,100.69 310.32,100.1 310.58,100.1 310.84,103.03 311.09,100.11 311.35,100.7 311.61,101.42 311.86,102.2 312.12,100.11 312.38,103.17 312.63,101.54 312.37,99.65 312.1,102.96 311.83,102.41 311.56,98.91 311.29,98.91 311.02,99.18 310.76,102.29 310.49,99.87 310.22,99.61 309.95,100.34 310.21,101.77 310.46,98.09 310.72,98.49 310.97,98.79 311.23,97.73 311.49,97.72 311.74,97.72 312,100.51 312.26,99.93 312.51,101.63 312.77,101.76 313.02,99.15 312.75,97.55 312.48,100.18 312.2,100.57 311.93,96.59 311.66,99.98 311.38,99.7 311.11,100.58 310.84,100.58 310.56,96.57 310.29,98 310.55,98.87 310.82,95.32 311.08,97.09 311.34,96.7 311.61,95.32 311.87,96.38 312.13,95.85 312.4,96.98 312.66,95.33 312.92,96.75 312.67,94.06 312.42,95.69 312.17,96.06 311.92,93.97 311.67,97.13 311.42,93.97 311.17,93.97 310.92,95.4 311.2,94.11 311.47,94.61 311.74,93.13 312.01,95.59 312.28,96.36 312.55,95.16 312.82,96.13 313.1,94.55 312.85,91.79 312.59,93.37 312.34,92.98 312.09,91.79 311.84,92.89 311.59,91.78 311.34,93.21 311.61,93.02 311.88,93.53 312.16,92.5 312.43,91.28 312.7,90.67 312.97,90.67 313.25,92.09 312.97,90.66 312.68,93.51 312.4,91.67 312.12,89.17 311.84,90.59 312.11,91.69 312.38,88.33 312.65,89.94 312.91,90.88 313.18,92.01 313.45,89.75 313.15,88.41 312.86,89.64 312.56,91.17 312.26,88.41 312.52,89.83 312.78,88.99 313.05,88.76 313.31,87.04 313.57,86.89 313.83,87.33 313.54,85.4 313.25,88.75 312.96,88.75 312.67,85.28 312.38,85.86 312.65,87.28 312.92,83.43 313.19,83.43 313.45,85.41 313.72,83.83 313.99,84.08 314.25,87.27 314.52,84.85 314.27,82.1 314.02,82.2 313.77,82.26 313.52,85.36 313.27,82.02 313.02,82.02 312.77,83.44 313.04,83.67 313.32,82.47 313.6,81.26 313.88,83.01 314.16,84.05 314.43,83.21 314.71,83.67 314.99,82.67 314.72,82.92 314.45,84.08 314.18,84.08 313.91,80.69 313.64,80.59 313.37,84.09 313.1,81.32 313.36,79.84 313.62,82.68 313.88,82.42 314.14,82.24 314.4,82.73 314.66,82.73 314.91,78.81 315.17,81.32 315.43,80.26 315.69,80.21 315.42,80.48 315.15,78.88 314.88,78.08 314.61,81.25 314.34,79.49 314.07,77.25 313.8,77.25 313.53,78.66 313.79,77.26 314.05,76.06 314.31,78.39 314.56,75.9 314.82,75.91 315.08,75.91 315.34,75.91 315.59,79.16 315.85,75.91 316.11,77.09 316.37,77.31 316.11,78.71 315.86,76.98 315.61,74.93 315.36,78.72 315.1,78.72 314.85,74.92 314.6,74.92 314.35,76.58 314.1,78.59 313.84,76.33 314.11,75.44 314.37,77.7 314.63,74.22 314.89,77.49 315.16,74.57 315.42,74.52 315.68,77.49 315.95,77.73 316.21,77.73 316.47,75.8 316.73,74.65 317,75.12 316.74,76.51 316.48,75.83 316.22,76.51 315.96,76.52 315.7,72.76 315.44,73.71 315.19,75.74 314.93,72.76 314.67,72.76 314.41,72.75 314.15,74.16 314.42,74.7 314.69,75.57 314.96,75.57 315.23,71.69 315.5,75.07 315.77,73.05 316.04,74.49 316.31,72.71 316.58,75.56 316.85,75.56 317.12,71.7 317.4,73.09 317.14,74.49 316.88,70.26 316.62,70.26 316.37,71.04 316.11,74.11 315.85,74.5 315.6,70.26 315.34,70.82 315.08,70.25 314.82,72.1 314.57,71.66 314.83,71.45 315.08,70.57 315.34,70.01 315.6,73.06 315.86,73.06 316.12,69.57 316.38,70.26 316.63,71.8 316.89,72.76 317.15,73.05 317.41,69.9 317.67,70.6 317.4,71.85 317.14,70.66 316.88,72 316.62,67.84 316.35,67.84 316.09,67.83 315.83,72 315.56,67.83 315.3,69.29 315.04,69.23 315.31,66.73 315.58,67.76 315.86,66.73 316.13,69.31 316.4,66.73 316.67,69.53 316.94,66.92 317.22,66.74 317.49,68.21 317.76,67.28 318.03,68.13 317.77,66.28 317.51,65.35 317.25,65.35 316.99,69.53 316.73,66.07 316.46,65.34 316.2,65.34 315.94,66.9 315.68,69.53 315.42,66.74 315.68,64.51 315.95,68.14 316.21,66.39 316.48,65.81 316.74,68.14 317,65.52 317.27,64.48 317.53,66.47 317.8,67.15 318.06,66.83 318.33,65.88 318.06,64.13 317.8,67.26 317.53,67.27 317.26,67.27 317,64.65 316.73,67.27 316.47,66.34 316.2,62.84 315.94,62.84 315.67,64.24 315.94,61.93 316.2,61.93 316.46,61.93 316.73,62.92 316.99,65.63 317.26,62.43 317.52,63.81 317.79,61.94 318.05,61.94 318.32,65.62 318.58,61.95 318.84,63.33 318.57,63.42 318.3,64.72 318.02,64.72 317.75,64.58 317.47,62.09 317.2,64.72 316.93,64.72 316.65,64.41 316.38,64.73 316.1,62.28 316,60 316.25,55.69 316.5,56 316.75,62.23 317,62 317.25,58.3 317.5,56 317.75,59.46 318,60 318.25,56.23 318.5,56 318.75,59.38 319,58 319.25,60.65 319.5,70 319.75,83.04 320,95 320.25,88.09 320.5,85 320.75,100.22 321,117 321.25,107.59 321.5,100 321.75,106.09 322,110 322.25,97.14 322.5,80 322.75,86.57 323,95 323.25,103.44 323.5,110 323.75,117.51 324,127 324.35,117 324.7,110 325,117.73 325.3,120 325.65,103.8 326,90 326.25,92.29 326.5,100 326.75,88.9 327,80 327.27,93.27 327.53,101.42 327.8,115 328.15,109.1 328.5,100 328.85,109.3 329.2,118 329.5,102.68 329.8,85 330.1,75.4 330.4,70 330.7,61.45 331,58 331.25,57.7 331.5,62 331.75,58.04 332,56 332,60.25 332.2,55.69 332.4,64.02 332.6,64.51 332.8,55.87 333,58.45 333.2,62.78 333.4,59.81 333.6,55.69 333.8,56.32 334,55.69 334.2,62.04 334.4,57.71 334.6,61.68 334.8,65.97 335,67.04 335.2,67.56 335.4,60.55 335.6,55.69 335.8,55.69 336,55.69 336.2,55.69 336.4,60.21 336.6,61.47 336.8,67.7 337,66.78 337.2,67.99 337.4,67.24 337.6,61.12 337.8,58.84 338,57.66 338.2,56.46 338.4,62.83 338.6,64.88 338.8,56.43 339,59.48 339.2,55.81 339.4,55.69 339.6,57.41 339.8,60.72 340,58.89 340,60 340.25,65.83 340.5,69.54 340.75,78.77 341,85 341.25,78.66 341.5,72.41 341.75,67.98 342,62 342.25,69.3 342.5,69.17 342.75,77.87 343,80 343.25,72.88 343.5,69.6 343.75,59.53 344,56 344.25,65.84 344.5,69.06 344.75,79.2 345,83 345.25,75.45 345.5,70.91 345.75,67.08 346,60 346.25,61.66 346.5,66.02 346.75,72.41 347,75 347.25,73.2 347.5,64.33 347.75,58.65 348,56 348,55.69 348.2,57.79 348.4,63.1 348.6,62.75 348.8,56.76 349,56.98 349.2,55.74 349.4,57.7 349.6,55.69 349.8,55.69 350,56.51 350.2,60.51 350.4,62.86 350.6,62.61 350.8,57.43 351,55.69 351.2,65.74 351.4,62.86 351.6,57.34 351.8,61.82 352,55.69 352.2,59.66 352.4,64.09 352.6,64.23 352.8,59.51 353,55.93 353.2,55.69 353.4,55.69 353.6,61.86 353.8,57.4 354,55.69 354.2,55.69 354.4,60.29 354.6,60.73 354.8,56.71 355,55.69 355.25,68.31 355.5,83 355.75,80.8 356,68.94 356.25,66.73 356.5,60 356.75,56.95 357,55.69 357.2,60.34 357.4,63.11 357.6,55.69 357.8,63.94 358,63.58 358.2,62.32 358.4,60.84 358.6,55.69 358.8,55.69 359,57.21 359.2,62.44 359.4,65.41 359.6,62.85 359.8,55.86 360,65.4 360.2,60.89 360.4,62.05 360.6,65.79 360.8,60.86 361,59.77 361.2,61.89 361.4,62.1 361.6,55.69 361.8,55.7 362,55.69 362.2,55.69 362.4,58.84 362.6,58.44 362.8,59.01 363,57.19 363.2,60.91 363.4,61.22 363.6,57.62 363.8,65.4 364,64.43 364.25,71.36 364.5,76 364.75,69.2 365,67.93 365.25,65.61 365.5,58 365.75,64.97 366,66.19 366.2,66.13 366.4,62.3 366.6,55.69 366.8,58.05 367,55.69 367.2,56.83 367.4,67.33 367.6,65.09 367.8,55.69 368,57.71 368.2,55.69 368.4,67.95 368.6,56.96 368.8,56.32 369,55.69 369.2,55.69 369.4,57.66 369.6,67.75 369.8,63.13 370,65.88 370.2,59.88 370.4,59.2 370.6,63.41 370.8,55.69 371,56.89 371.2,56.41 371.4,57.37 371.6,55.69 371.8,55.69 372,59.9 372.2,65.15 372.4,62.21 372.6,57.13 372.8,62.72 373,61.06 373.2,66.05 373.4,65.14 373.6,66.98 373.8,60.68 374,57.87 374.25,70.06 374.5,80 374.75,77.54 375,75.6 375.25,69.1 375.5,70 375.75,78.74 376,83.19 376.25,86.83 376.5,93 376.75,89.98 377,83.28 377.25,78.46 377.5,75 377.75,76.31 378,83.41 378.25,86.91 378.5,90 378.77,80.14 379.03,65.73 379.3,60 379.65,59.17 380,56 380,55.69 380.2,62.23 380.4,59.14 380.6,60.91 380.8,55.73 381,55.69 381.2,57.84 381.4,55.69 381.6,57 381.8,55.69 382,58.06 382.2,57.23 382.4,59.87 382.6,59.82 382.8,56.04 383,55.69 383.2,55.69 383.4,55.69 383.6,57.31 383.8,59.49 384,56.29 384.2,62.43 384.4,62.73 384.6,57.61 384.8,61.39 385,57.16 385.25,61.62 385.5,68.01 385.75,72.99 386,81.23 386.25,78.65 386.5,87 386.75,81.19 387,80.81 387.25,72.83 387.5,65 387.75,70.16 388,79 388.25,77.08 388.5,75.34 388.75,65.28 389,62 389.25,69.9 389.5,66.78 389.75,79.64 390,79 390.25,82.15 390.5,82.82 390.75,92.11 391,91.95 391.3,127.25 391.6,90.65 391.9,125.15 392.2,98.72 392.5,126.94 392.8,95.01 393.1,121.41 393.4,88.73 393.7,103.07 394,87.1 394.3,112.77 394.6,89.79 394.9,123.95 395.2,98.22 395.5,135.36 395.8,109.75 396.1,144.6 396.4,122.59 396.7,146.74 397,133.6 397.3,150.58 397.6,136.74 397.9,149.71 398.2,117.92 398.5,150.53 398.8,106.5 399.1,139.73 399.4,92.72 399.7,124.39 400,82.61 400.3,108.02 400.6,79.75 400.9,92.77 401.2,79.45 401.5,103.93 401.8,83.96 402.1,149.53 402.4,83.71 402.7,146.45 403,99.29 403.3,147.88 403.6,132.18 403.9,153.68 404.2,132.15 404.5,159.56 404.8,132.08 405.1,157.58 405.4,140.49 405.7,160.98 406,140.32 406.3,175.18 406.6,140.09 406.9,185.02 407.2,154.46 407.5,188.77 407.8,174.2 408.1,190.95 408.4,166.15 408.7,191.62 409,154.78 409.3,187.81 409.6,151.62 409.9,166.72 410.2,149.09 410.5,164.31 410.8,151.09 411.1,189.27 411.4,150.79 411.7,213.42 412,163.87 412.3,227.12 412.6,183.83 412.9,224 413.2,200.8 413.5,225.95 413.8,200.1 414.1,214.34 414.4,196.62 414.7,213.23 415,192.32 415.3,214.74 415.6,190.78 415.9,200.08 416.2,183.26 416.5,198.54 416.8,171.45 417.1,196.45 417.4,171.96 417.7,189.46 418,169.2 418.3,179.17 418.6,151.56 418.9,178.99 419.2,133.85 419.5,173.53 419.8,125.44 420.1,155.04 420.4,125.29 420.7,149.46 421,125.1 421.3,162.38 421.6,138.18 421.9,181.43 422.2,150.66 422.5,188.9 422.8,161.74 423.1,188.85 423.4,175.42 423.7,193.57 424,176.52 424.3,208.43 424.6,178.61 424.9,208.53 425.2,189.07 425.5,209.75 425.8,201.77 426.1,224.22 426.4,200.18 426.7,228.96 427,204.43 427.3,234.96 427.6,221.03 427.9,236.66 428.2,215.03 428.5,237.83 428.8,215.58 429.1,231.45 429.4,215.76 429.7,222.91 430,199.15 430.3,224.49 430.6,197.02 430.9,223.03 431.2,195.2 431.5,204.8 431.8,188.96 432.1,204.8 432.4,181.35 432.7,202.89 433,181.95 433.3,193.12 433.6,176.2 433.9,184.68 434.2,165.99 434.5,182.85 434.8,162.1 435.1,178.64 435.4,157.2 435.7,167.94 436,158.03 436.3,177.56 436.6,158.93 436.9,186.71 437.2,165.85 437.5,192.96 437.8,174.14 438.1,199.41 438.4,184.33 438.7,202.91 439,191.64 439.3,203.64 439.6,181.39 439.9,201.27 440.2,181.54 440.5,196.45 440.8,180.04 441.1,183.91 441.4,167.13 441.7,183.37 442,161.57 442.3,183.39 442.6,162.05 442.9,171.14 443.2,151.16 443.5,163.54 443.8,140.9 444.1,162.83 444.4,142.05 444.7,156.3 445,141.76 445.3,164.11 445.6,145.29 445.9,171.11 446.2,152.9 446.5,177.43 446.8,162.61 447.1,180.79 447.4,170.87 447.7,184.31 448,177.42 448.3,187.83 448.6,182.17 448.9,189.97 449.2,181.64 449.5,189.01 449.8,174.38 450.1,189.02 450.4,167.18 450.7,184.3 451,166.11 451.3,175.52 451.6,165.06 451.9,169.74 452.2,158.68 452.5,168.84 452.8,149.07 453.1,167.91 453.4,146.92 453.7,161.31 454,145.01 454.3,150.02 454.6,132.35 454.9,147.77 455.2,133.25 455.5,148.1 455.8,131.24 456.1,149.2 456.4,133.37 456.7,148.13 457,130.42 457.3,147.52 457.6,125.31 457.9,145.89 458.2,127.25 458.5,142.59 458.8,121.12 459.1,140.04 459.4,121.23 459.7,140.12 460,113.24 460.3,137.87 460.6,105.99 460.9,136.21 461.2,106.68 461.5,131.32 461.8,99.79 462.1,121.94 462.4,98.07 462.7,124.59 463,94.5 463.3,117.82 463.6,86.96 463.9,112.4 464.2,87.89 464.5,111.28 464.8,80.23 465.1,104.17 465.4,80.9 465.7,102.02 466,77.04 466.3,97.55 466.6,73.25 466.9,94.34 467.2,72.63 467.5,92.24 467.8,72.02 468.1,87.78 468.4,69.72 468.7,87.44 469,70.89 469.3,98.17 469.6,76.04 469.9,97.49 470.2,76.39 470.5,103.35 470.8,78.86 471.1,104.45 471.4,81.9 471.7,104.23 472,81.37 472.3,105.42 472.6,83.16 472.9,102.76 473.2,82.51 473.5,105.56 473.8,85.5 474.1,105.12 474.4,88.77 474.7,106.72 475,91.91 475.3,118.78 475.6,98.23 475.9,118.33 476.2,99.56 476.5,122.35 476.8,102.2 477.1,129.24 477.4,104.29 477.7,128.99 478,105.06 478.3,133.01 478.6,109.52 478.9,132.19 479.2,109.24 479.5,137.2 479.8,113.73 480.1,141.64 480.4,117.14 480.7,141.18 481,119.54 481.3,141.79 481.6,118.03 481.9,139.35 482.2,118.12 482.5,141.45 482.8,105.73 483.1,134.65 483.4,107.97 483.7,130.22 484,97.41 484.3,118.81 484.6,88.73 484.9,115.53 485.2,85.4 485.5,107.23 485.8,72.87 486.1,96.61 486.4,66.92 486.7,93.46 487,58.07 487.3,72.95 487.6,57.56 487.9,68.39 488,55.69 488.2,63.22 488.4,55.69 488.6,55.69 488.8,59.16 489,67.48 489.2,59.73 489.4,66.48 489.6,58.63 489.8,64.62 490,63.89 490.2,61.79 490.4,68.71 490.6,63.71 490.8,69.15 491,63.55 491.2,62.88 491.4,60.92 491.6,67.48 491.8,67.52 492,65.63 492.2,56.38 492.4,62.14 492.6,56.18 492.8,59.82 493,58.75 493.2,55.69 493.4,57.79 493.6,67.31 493.8,68 494,69.08 494.2,55.69 494.4,55.69 494.6,55.69 494.8,55.69 495,55.84 495.2,55.69 495.4,57.35 495.6,64.27 495.8,69.58 496,68.52 496.2,63.52 496.4,57.19 496.6,59.05 496.8,59.87 497,56.87 497.2,57.04 497.4,61.41 497.6,62.26 497.8,68.88 498,67.18 498.2,66.87 498.4,63.96 498.6,69.92 498.8,64.66 499,65.79 499.2,61.58 499.4,69.11 499.6,61.88 499.8,66.73 500,57.3 500.2,55.69 500.4,60.78 500.6,60.19 500.8,60.94 501,59.12 501.2,64.69 501.4,63.93 501.6,68.25 501.8,63.33 502,66.65 502.2,67.22 502.4,63.81 502.6,56.71 502.8,65.28 503,60.59 503.2,66.7 503.4,65.51 503.6,58.63 503.8,68.13 504,61.5 504.25,69.15 504.5,75 504.75,81.63 505,84.98 505.25,88.79 505.5,91 505.75,86.32 506,84.46 506.25,74.14 506.5,72 506.75,76.22 507,77.27 507.25,76.5 507.5,80 507.75,76.34 508,68.72 508.25,63.72 508.5,58 508.5,55.69 508.7,66.83 508.9,72.12 509.11,69.37 509.31,58.44 509.51,59.35 509.71,55.69 509.91,56.64 510.12,56.94 510.32,60.52 510.52,68.16 510.72,59.32 510.93,58.11 511.13,69.16 511.33,68.74 511.53,72.86 511.73,57.43 511.94,55.69 512.14,56.74 512.34,55.88 512.54,55.69 512.74,64.81 512.95,72.39 513.15,69.68 513.35,71.66 513.55,73.39 513.76,63.98 513.96,56.98 514.16,55.69 514.36,57.32 514.56,63.29 514.77,63.35 514.97,55.69 515.17,57.27 515.37,60.19 515.57,62.88 515.78,58.77 515.98,55.69 516.18,56.84 516.38,57.64 516.59,55.69 516.79,65.87 516.99,67.97 517.19,63.53 517.39,70.38 517.6,62.82 517.8,60.02 518,62.68 518.27,73.98 518.53,79.07 518.8,90 519.15,93.68 519.5,100 519.8,105.61 520.1,106.94 520.4,114.58 520.7,119 520.97,109.39 521.23,96.28 521.5,85 521.75,77.2 522,74.3 522.25,68.38 522.5,60 522.5,55.69 522.7,70.24 522.91,63.06 523.11,74.98 523.31,77.93 523.51,68.43 523.72,66.59 523.92,60.14 524.12,56.32 524.32,55.69 524.53,57.3 524.73,59.58 524.93,55.69 525.14,57.52 525.34,60.72 525.54,63.29 525.74,65.3 525.95,65.82 526.15,56.02 526.35,74.01 526.55,73.31 526.76,78.37 526.96,79.44 527.16,75.52 527.36,77.74 527.57,82.03 527.77,82.46 527.97,82.25 528.18,78.57 528.38,75.05 528.58,86.93 528.78,77.06 528.99,77.56 529.19,81.4 529.39,81.86 529.59,85.23 529.8,75.03 530,72.66 530,57.78 530.2,55.69 530.4,55.69 530.6,61.06 530.8,64.68 531,67.01 531.2,68.98 531.4,57.55 531.6,55.69 531.8,57.9 532,65.78 532.2,65.97 532.4,57.6 532.6,55.69 532.8,64.28 533,64.71 533.2,59.54 533.4,71.44 533.6,68.5 533.8,67.99 534,69.48 534.2,70.86 534.4,59.8 534.6,62.61 534.8,65.91 535,70.51 535.2,70.59 535.4,76.86 535.6,70.65 535.8,71.93 536,69.55 536.2,61.74 536.4,58.75 536.6,55.69 536.8,57.34 537,55.69 537.2,55.69 537.4,61.32 537.6,63.29 537.8,73.49 538,60.64 538.2,58.16 538.4,55.69 538.6,64.38 538.8,56.29 539,67.18 539.2,55.69 539.4,55.72 539.6,55.69 539.8,57.59 540,59.99 540.2,65.25 540.4,61.87 540.6,73.81 540.8,75.74 541,74.27 541.2,76.58 541.4,70.32 541.6,70.23 541.8,68.56 542,73.47 541.7,87 542,60 542,55.69 542.2,55.69 542.4,67.14 542.6,69.78 542.8,65.11 543,75.85 543.2,66.63 543.4,63.25 543.6,62.62 543.8,70.59 544,62.72 544.2,57.55 544.4,61.6 544.6,62.93 544.8,59.76 545,63.18 545.2,66.7 545.4,71.11 545.6,63.14 545.8,68.08 546,66 546.2,66.89 546.4,72.89 546.6,61.75 546.8,67.58 547,80.12 547.2,81.79 547.4,73.88 547.6,70.24 547.8,71.87 548,57.39 548,62 548.25,69.85 548.5,74.34 548.75,82.79 549,86 549.25,84.06 549.5,75.58 549.75,73.06 550,70 550.25,73.44 550.5,79.23 550.75,87.66 551,95 551.35,90.1 551.7,80 552.05,102.41 552.4,120 552.7,112.22 553,110 553.3,127.67 553.6,150 553.9,144.18 554.2,140 554.5,162.6 554.8,180 555.1,175.88 555.4,170 555.7,186.54 556,197 556.3,185.23 556.6,180 556.9,188.75 557.2,190 557.5,172.73 557.8,160 558.1,166.01 558.4,170 558.7,157.96 559,140 559.3,146.81 559.6,150 559.9,132.58 560.2,120 560.5,126.34 560.8,130 561.1,114.45 561.4,100 561.7,101.16 562,110 562.3,96.24 562.6,85 562.9,87.05 563.2,92 563.5,82.01 563.8,70 564.1,70.77 564.4,75 564.7,67.3 565,58 565.25,59.01 565.5,55.69 565.75,55.69 566,56 566,55.69 566.2,55.69 566.4,61.2 566.6,57.1 566.8,59.24 567,55.69 567.2,55.69 567.4,55.69 567.6,58.17 567.8,55.69 568,55.69 568.2,58.46 568.4,55.69 568.6,55.69 568.8,55.69 569,61.58 569.2,55.69 569.4,60.23 569.6,55.69 569.8,58.97 570,59.47 570.2,61.82 570.4,55.69 570.6,55.69 570.8,55.69 571,64.67 571.2,60.6 571.4,56.6 571.6,64.79 571.8,62.82 572,55.69 572.25,60.95 572.5,63.1 572.75,64.44 573,71 573.25,64.93 573.5,67.73 573.75,62.05 574,58 574,55.69 574.2,57.95 574.4,66.81 574.6,62.38 574.8,61.54 575,64.78 575.2,59.9 575.4,55.69 575.6,60.99 575.8,55.79 576,55.69 576.2,63.62 576.4,56.41 576.6,56.91 576.8,57.86 577,60.59 577.2,65.85 577.4,69.17 577.6,66.58 577.8,66.04 578,63.96 578.2,55.69 578.4,55.69 578.6,55.69 578.8,55.69 579,57.71 579.2,55.69 579.4,58.04 579.6,55.88 579.8,55.69 580,60.35 580.2,65.78 580.4,69.44 580.6,69.02 580.8,59.74 581,65.32 581.2,57.3 581.4,63.51 581.6,65.53 581.8,57.47 582,57.4 582.2,56.84 582.4,55.69 582.6,63.31 582.8,66.81 583,65.71 583.2,57.46 583.4,55.69 583.6,55.69 583.8,65.14 584,67.79 584.2,58.42 584.4,60.55 584.6,64.05 584.8,60.02 585,55.82 585.2,55.86 585.4,55.69 585.6,55.69 585.8,55.69 586,55.69 586.25,65.39 586.5,77 586.85,83.48 587.2,94 587.47,85.95 587.73,72.6 588,60 588,61.97 588.2,63.99 588.4,71.08 588.6,72.51 588.8,74.61 589,71.9 589.2,72.82 589.4,71.9 589.61,74.86 589.81,74.26 590.01,70.92 590.21,74.59 590.41,67.79 590.61,69.93 590.81,69.48 591.01,66.73 591.21,55.69 591.41,68.52 591.61,65.83 591.81,58.13 592.01,55.69 592.22,63.61 592.42,58.67 592.62,63.26 592.82,67.55 593.02,74.08 593.22,70.8 593.42,62.9 593.62,55.69 593.82,58.75 594.02,55.69 594.22,56.13 594.42,56.83 594.62,59.14 594.82,64.08 595.02,71 595.23,62.89 595.43,55.69 595.63,61.86 595.83,67.85 596.03,57.93 596.23,56.11 596.43,60.84 596.63,68.78 596.83,69.26 597.03,66.96 597.23,67.86 597.43,71.21 597.63,68.44 597.84,74.56 598.04,72.18 598.24,64.85 598.44,65.97 598.64,56.04 598.84,55.69 599.04,55.69 599.24,55.69"/>
</g>
<g stroke="#000" stroke-width="1.11" stroke-linecap="square" fill="none">
<path d="M58.5 441.5V37.5M625.5 441.5V37.5M58.5 441.5H625.5M58.5 37.5H625.5"/>
<path stroke-linecap="butt" d="M84.5 441.5V446.36M186.5 441.5V446.36M287.5 441.5V446.36M389.5 441.5V446.36M491.5 441.5V446.36M593.5 441.5V446.36M58.5 431.5H53.64M58.5 356.5H53.64M58.5 281.5H53.64M58.5 206.5H53.64M58.5 131.5H53.64M58.5 56.5H53.64"/>
</g>
<g style="font-family:'DejaVu Sans','Liberation Sans',sans-serif;font-size:13.89px" fill="#000">
<text x="83.69" y="461.55" text-anchor="middle">2016</text>
<text x="185.65" y="461.55" text-anchor="middle">2018</text>
<text x="287.48" y="461.55" text-anchor="middle">2020</text>
<text x="389.45" y="461.55" text-anchor="middle">2022</text>
<text x="491.28" y="461.55" text-anchor="middle">2024</text>
<text x="593.24" y="461.55" text-anchor="middle">2026</text>
<text x="48.62" y="436.07" text-anchor="end" textLength="32.9" lengthAdjust="spacingAndGlyphs">−0.5</text>
<text x="48.62" y="361.05" text-anchor="end" textLength="32.9" lengthAdjust="spacingAndGlyphs">−0.4</text>
<text x="48.62" y="286.03" text-anchor="end" textLength="32.9" lengthAdjust="spacingAndGlyphs">−0.3</text>
<text x="48.62" y="211.01" text-anchor="end" textLength="32.9" lengthAdjust="spacingAndGlyphs">−0.2</text>
<text x="48.62" y="135.99" text-anchor="end" textLength="32.9" lengthAdjust="spacingAndGlyphs">−0.1</text>
<text x="48.62" y="60.97" text-anchor="end" textLength="20.3" lengthAdjust="spacingAndGlyphs">0.0</text>
</g>
<text x="341.67" y="29" text-anchor="middle" style="font-family:'DejaVu Sans','Liberation Sans',sans-serif;font-size:17.6px" textLength="88.45" lengthAdjust="spacingAndGlyphs">Drawdown</text>
<rect x="65.5" y="388.5" width="107" height="46" rx="2.78" fill="#fff" fill-opacity="0.8" stroke="#ccc" stroke-opacity="0.8" stroke-width="1.39"/>
<g stroke-width="2.08" stroke-linecap="square"><path stroke="#1f77b4" d="M71 400H99"/><path stroke="#ff7f0e" d="M71 421H99"/></g>
<g style="font-family:'DejaVu Sans','Liberation Sans',sans-serif;font-size:13.89px">
<text x="109.74" y="404.9">Portfolio</text>
<text x="109.74" y="425.89">SPY</text>
</g>
</svg>
</body></html>
